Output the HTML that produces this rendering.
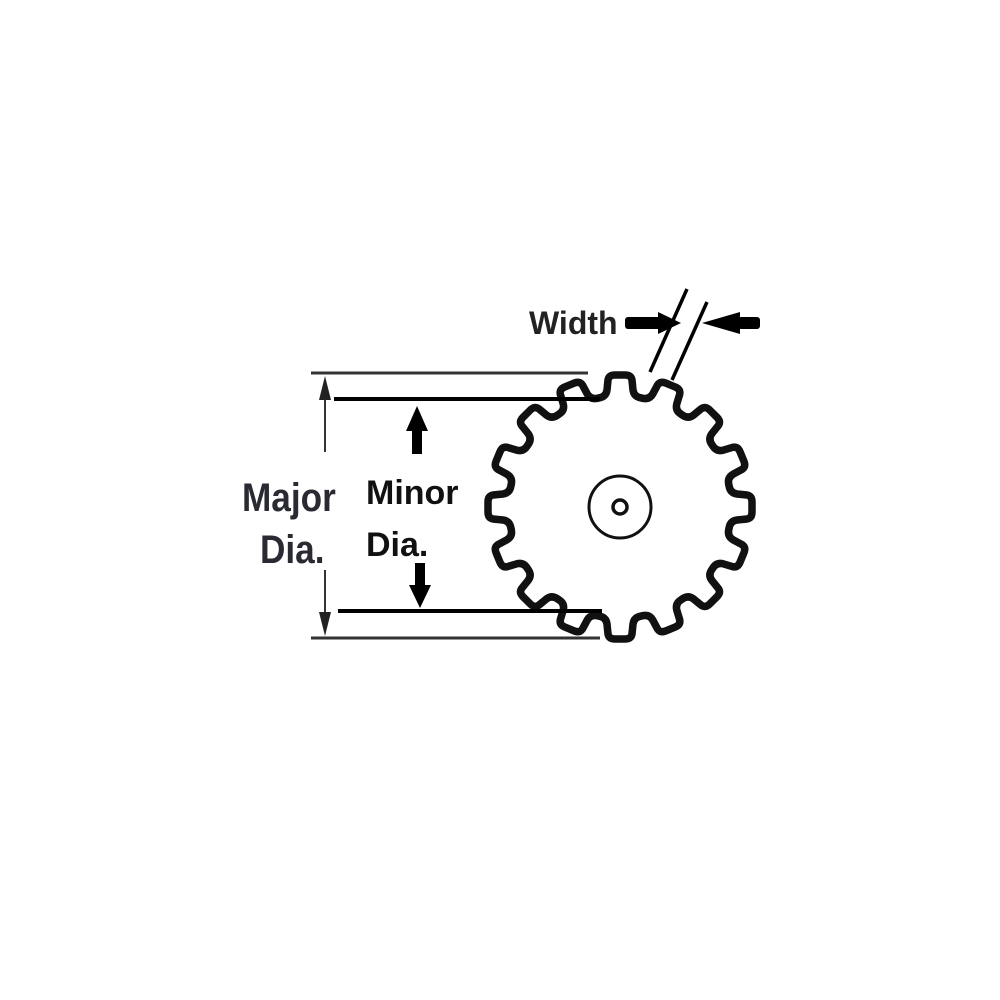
<!DOCTYPE html>
<html><head><style>
body{margin:0;background:#fff;width:1000px;height:1000px;overflow:hidden}
svg{display:block}
</style></head><body>
<svg width="1000" height="1000" viewBox="0 0 1000 1000" xmlns="http://www.w3.org/2000/svg">
<defs>
<path id="tooth" d="M -21.5,-109 Q -14,-110 -13,-117 L -12,-127 Q -11,-132 -5,-132 L 5,-132 Q 11,-132 12,-127 L 13,-117 Q 14,-110 21.5,-109" fill="none" stroke="#111" stroke-width="7.5" stroke-linecap="round" stroke-linejoin="round"/>
</defs>
<g transform="translate(620,507)">
<use href="#tooth" transform="rotate(0)"/>
<use href="#tooth" transform="rotate(22.5)"/>
<use href="#tooth" transform="rotate(45)"/>
<use href="#tooth" transform="rotate(67.5)"/>
<use href="#tooth" transform="rotate(90)"/>
<use href="#tooth" transform="rotate(112.5)"/>
<use href="#tooth" transform="rotate(135)"/>
<use href="#tooth" transform="rotate(157.5)"/>
<use href="#tooth" transform="rotate(180)"/>
<use href="#tooth" transform="rotate(202.5)"/>
<use href="#tooth" transform="rotate(225)"/>
<use href="#tooth" transform="rotate(247.5)"/>
<use href="#tooth" transform="rotate(270)"/>
<use href="#tooth" transform="rotate(292.5)"/>
<use href="#tooth" transform="rotate(315)"/>
<use href="#tooth" transform="rotate(337.5)"/>
<circle r="31" fill="none" stroke="#111" stroke-width="3"/>
<circle r="7" fill="none" stroke="#111" stroke-width="3.5"/>
</g>
<line x1="311" y1="373" x2="588" y2="373" stroke="#333" stroke-width="3"/>
<line x1="311" y1="638" x2="600" y2="638" stroke="#333" stroke-width="3"/>
<line x1="334" y1="399" x2="600" y2="399" stroke="#000" stroke-width="4"/>
<line x1="338" y1="611" x2="602" y2="611" stroke="#000" stroke-width="4"/>
<line x1="325" y1="395" x2="325" y2="452" stroke="#333" stroke-width="2"/>
<polygon points="325,376 319,400 331,400" fill="#222"/>
<line x1="325" y1="570" x2="325" y2="615" stroke="#333" stroke-width="2"/>
<polygon points="325,636 319,612 331,612" fill="#222"/>
<rect x="412" y="428" width="10" height="26" fill="#000"/>
<polygon points="417,406 406,431 428,431" fill="#000"/>
<rect x="415" y="563" width="10" height="24" fill="#000"/>
<polygon points="420,608 409,585 431,585" fill="#000"/>
<line x1="687" y1="289" x2="650" y2="372" stroke="#000" stroke-width="3.5"/>
<line x1="707" y1="302" x2="672" y2="380" stroke="#000" stroke-width="3.5"/>
<rect x="625" y="317" width="36" height="12" rx="3" fill="#000"/>
<polygon points="681,323 658,312 658,334" fill="#000"/>
<rect x="738" y="317" width="22" height="12" rx="3" fill="#000"/>
<polygon points="702,323 740,312 740,334" fill="#000"/>
<text x="529" y="334" font-family="Liberation Sans, sans-serif" font-weight="bold" font-size="32" fill="#222">Width</text>
<text x="366" y="504" font-family="Liberation Sans, sans-serif" font-weight="bold" font-size="34" fill="#111">Minor</text>
<text x="366" y="556" font-family="Liberation Sans, sans-serif" font-weight="bold" font-size="34" fill="#111">Dia.</text>
<g fill="#2a2a33" font-family="Liberation Sans, sans-serif" font-weight="bold" font-size="40">
<text transform="translate(242,511) scale(0.88,1)">Major</text>
<text transform="translate(260,563) scale(0.88,1)">Dia.</text>
</g>
</svg>
</body></html>
